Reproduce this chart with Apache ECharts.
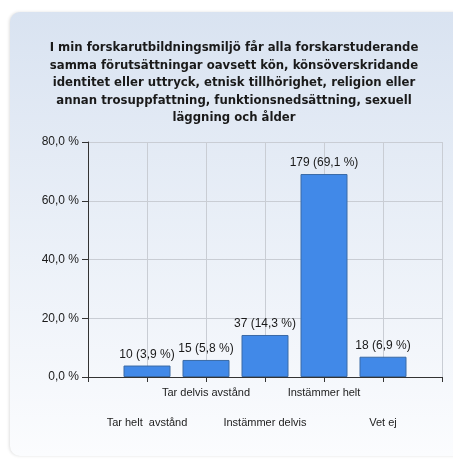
<!DOCTYPE html>
<html>
<head>
<meta charset="utf-8">
<script src="https://cdn.jsdelivr.net/npm/echarts@6/dist/echarts.min.js"></script>
<style>
  html, body { margin: 0; padding: 0; background: #fff; }
  #chart { width: 453px; height: 459px; }
</style>
</head>
<body>
<div id="chart"></div>
<script>
// svarsalternativ och värden
const categories = ['Tar helt  avstånd', 'Tar delvis avstånd', 'Instämmer delvis', 'Instämmer helt', 'Vet ej']
const counts = [10, 15, 37, 179, 18]
const percents = [3.9, 5.8, 14.3, 69.1, 6.9]
const yTicks = [0, 20, 40, 60, 80]

const titleLines = [
  'I min forskarutbildningsmiljö får alla forskarstuderande',
  'samma förutsättningar oavsett kön, könsöverskridande',
  'identitet eller uttryck, etnisk tillhörighet, religion eller',
  'annan trosuppfattning, funktionsnedsättning, sexuell',
  'läggning och ålder'
]

const fmt = v => v.toFixed(1).replace('.', ',')

// tomma platser i början och slutet så att staplarna hamnar på linjerna
const axisCats = [''].concat(categories, [''])
const barData = ['-'].concat(percents, ['-'])

const chart = echarts.init(document.getElementById('chart'))
const option = {
  animation: false,
  graphic: [
    {
      type: 'rect',
      z: -10,
      shape: { x: 10, y: 12, width: 460, height: 444, r: [10, 0, 0, 10] },
      style: {
        fill: new echarts.graphic.LinearGradient(0, 0, 0, 1, [
          { offset: 0, color: '#d9e3f1' },
          { offset: 1, color: '#fbfcfe' }
        ]),
        shadowColor: 'rgba(0,0,0,0.12)',
        shadowBlur: 3,
        shadowOffsetX: -1
      }
    }
  ],
  title: {
    text: titleLines.join('\n'),
    left: 229,
    top: 34,
    textAlign: 'center',
    textStyle: {
      fontFamily: 'DejaVu Sans Condensed',
      fontWeight: 'bold',
      fontSize: 13,
      lineHeight: 17.5,
      color: '#1a1a1a'
    }
  },
  grid: {
    left: 88,
    right: 11,
    top: 142,
    bottom: 82
  },
  xAxis: {
    type: 'category',
    data: axisCats,
    boundaryGap: false,
    axisLine: { lineStyle: { color: '#333', width: 1 } },
    axisTick: { length: 5, lineStyle: { color: '#333' } },
    splitLine: { show: true, lineStyle: { color: '#c9cdd4' } },
    axisLabel: {
      interval: 0,
      margin: 8,
      fontFamily: 'Liberation Sans',
      fontSize: 11,
      lineHeight: 15,
      color: '#222',
      formatter: (v, i) => (i % 2 === 1 ? '\n\n' + v : v)
    }
  },
  yAxis: {
    type: 'value',
    min: yTicks[0],
    max: yTicks[yTicks.length - 1],
    interval: 20,
    axisLine: { show: true, lineStyle: { color: '#333' } },
    axisTick: { show: true, length: 6, lineStyle: { color: '#333' } },
    splitLine: { lineStyle: { color: '#c9cdd4' } },
    axisLabel: {
      margin: 9,
      fontFamily: 'Liberation Sans',
      fontSize: 12,
      color: '#1a1a1a',
      formatter: v => fmt(v) + ' %'
    }
  },
  series: [
    {
      type: 'bar',
      data: barData,
      barWidth: 47,
      itemStyle: {
        color: '#4189e8',
        borderColor: '#3a6aa6',
        borderWidth: 1
      },
      label: {
        show: true,
        position: 'top',
        distance: 5,
        fontFamily: 'Liberation Sans',
        fontSize: 12,
        color: '#1a1a1a',
        formatter: p => counts[p.dataIndex - 1] + ' (' + fmt(p.value) + ' %)'
      }
    }
  ]
}
chart.setOption(option)
</script>
</body>
</html>
